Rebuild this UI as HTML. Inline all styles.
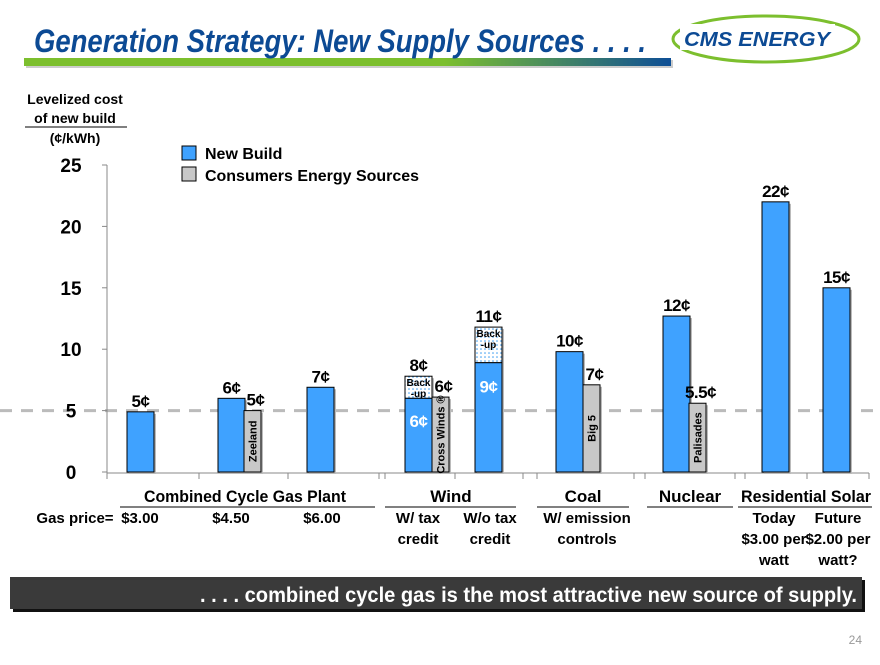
<!DOCTYPE html>
<html><head><meta charset="utf-8"><style>
html,body{margin:0;padding:0;background:#fff;}
body{width:880px;height:660px;overflow:hidden;position:relative;font-family:"Liberation Sans",sans-serif;}
svg text{font-family:"Liberation Sans",sans-serif;font-weight:bold;}
</style></head><body>
<svg id="chart" width="880" height="660" viewBox="0 0 880 660">
<defs>
<linearGradient id="bar" x1="0" x2="1"><stop offset="0" stop-color="#7cbf2e"/><stop offset="0.65" stop-color="#7cbf2e"/><stop offset="1" stop-color="#0e4f96"/></linearGradient>
<pattern id="dots" width="4" height="4" patternUnits="userSpaceOnUse"><rect width="4" height="4" fill="#fff"/><circle cx="1" cy="1" r="0.8" fill="#3a9cf0"/></pattern>
</defs>
<g>
<rect x="26" y="60" width="647" height="8" fill="#ccc"/>
<rect x="24" y="58" width="647" height="8" fill="url(#bar)"/>
<text x="34" y="52" font-size="32" font-style="italic" fill="#0c4a94" textLength="612" lengthAdjust="spacingAndGlyphs" style="font-weight:900">Generation Strategy:  New Supply Sources . . . .</text>
<ellipse cx="766" cy="39" rx="93" ry="23" fill="none" stroke="#7cbf2e" stroke-width="3"/>
<rect x="680" y="24" width="155" height="26" fill="#fff"/>
<text x="684" y="46" font-size="20" font-style="italic" fill="#0c4a94" textLength="146" lengthAdjust="spacingAndGlyphs">CMS ENERGY</text>
</g>
<g font-size="14" text-anchor="middle">
<text x="75" y="104">Levelized cost</text>
<text x="75" y="123">of new build</text>
<line x1="25" y1="127" x2="127" y2="127" stroke="#000" stroke-width="1"/>
<text x="75" y="143">(¢/kWh)</text>
</g>
<g font-size="16">
<rect x="182" y="146" width="14" height="14" fill="#3fa2ff" stroke="#000"/>
<text x="205" y="159">New Build</text>
<rect x="182" y="167" width="14" height="14" fill="#c8c8c8" stroke="#000"/>
<text x="205" y="181" textLength="214" lengthAdjust="spacingAndGlyphs">Consumers Energy Sources</text>
</g>
<g id="axes"></g>
<g id="bars"></g>
<g id="cats" font-size="15" text-anchor="middle"></g>
<g>
<rect x="13" y="580" width="852" height="32" fill="#111"/>
<rect x="10" y="577" width="852" height="32" fill="#3a3a3a"/>
<text x="200" y="602" font-size="21" fill="#fff" textLength="657" lengthAdjust="spacingAndGlyphs">. . . . combined cycle gas is the most attractive new source of supply.</text>
</g>
<text x="862" y="644" font-size="12" fill="#999" style="font-weight:normal" text-anchor="end">24</text>
</svg>
<script>
const yTicks=[0,5,10,15,20,25];
const barIds=['gas-300','gas-450','zeeland','gas-600','wind-tax','cross-winds','wind-notax','coal-new','big5','nuclear','palisades','solar-today','solar-future'];
const barValues=[4.9,6.0,5.0,6.9,6.0,6.1,8.9,9.8,7.1,12.7,5.6,22.0,15.0];
const backupValues=[0,0,0,0,7.8,0,11.8,0,0,0,0,0,0];
const barLabels=['5¢','6¢','5¢','7¢','8¢','6¢','11¢','10¢','7¢','12¢','5.5¢','22¢','15¢'];
const innerLabels=['','','Zeeland','','6¢','Cross Winds ®','9¢','','Big 5','','Palisades','',''];
const barKinds=['n','n','c','n','n','c','n','n','c','n','c','n','n'];
const barX=[127,218,244,307,405,432,475,556,583,663,689,762,823];
const NS='http://www.w3.org/2000/svg';
const y0=472,pxPer=12.28;
function yS(v){return y0-v*pxPer;}
function mk(t,a,p){const e=document.createElementNS(NS,t);for(const k in a)e.setAttribute(k,a[k]);p.appendChild(e);return e;}
const ax=document.getElementById('axes');
mk('line',{x1:0,y1:yS(5),x2:880,y2:yS(5),stroke:'#bbb','stroke-width':3,'stroke-dasharray':'12 9'},ax);
mk('line',{x1:107,y1:165,x2:107,y2:473,stroke:'#888'},ax);
yTicks.forEach(v=>{
 mk('line',{x1:102,y1:yS(v),x2:107,y2:yS(v),stroke:'#888'},ax);
 const t=mk('text',{x:71,y:yS(v)+7,'font-size':19,'text-anchor':'middle'},ax);
 
 
 t.textContent=v;
});
mk('line',{x1:107,y1:473,x2:869,y2:473,stroke:'#888'},ax);
[107,199,288,379,385,455,523,537,634,645,735,745,807,869].forEach(x=>mk('line',{x1:x,y1:473,x2:x,y2:479,stroke:'#888'},ax));
const bg=document.getElementById('bars');
barValues.forEach((v,i)=>{
 const c=barKinds[i]=='c';const w=c?17:27;const x=barX[i];
 const g=mk('g',{},bg);
 
 
 const top=backupValues[i]>0?backupValues[i]:v;
 mk('rect',{x:x+2,y:yS(top)+2,width:w,height:y0-yS(top),fill:'#bbb'},g);
 if(backupValues[i]>0){
  mk('rect',{x:x,y:yS(backupValues[i]),width:w,height:yS(v)-yS(backupValues[i]),fill:'url(#dots)',stroke:'#000'},g);
  const t1=mk('text',{x:x+w/2,y:yS(backupValues[i])+10,'font-size':10,'text-anchor':'middle'},g);t1.textContent='Back';
  const t2=mk('text',{x:x+w/2,y:yS(backupValues[i])+21,'font-size':10,'text-anchor':'middle'},g);t2.textContent='-up';
 }
 mk('rect',{x:x,y:yS(v),width:w,height:y0-yS(v),fill:c?'#c8c8c8':'#3fa2ff',stroke:'#000'},g);
 const lab=mk('text',{x:x+w/2+(c?3:0),y:yS(top)-5,'font-size':17,'text-anchor':'middle','letter-spacing':'-0.5'},g);lab.textContent=barLabels[i];
 if(innerLabels[i]){
  if(c){const t=mk('text',{x:0,y:0,'font-size':11,'text-anchor':'middle',transform:`translate(${x+w/2+4},${(yS(v)+y0)/2}) rotate(-90)`},g);t.textContent=innerLabels[i];}
  else{const t=mk('text',{x:x+w/2,y:(yS(v)+yS(0))/2-(i==4?8:5)+(i==6?-20:0),'font-size':17,fill:'#fff','text-anchor':'middle','letter-spacing':'-0.5'},g);t.textContent=innerLabels[i];}
 }
});
const cats=document.getElementById('cats');
const groups=[['Combined Cycle Gas Plant',245,120,375,202],['Wind',451,385,516,0],['Coal',583,537,629,0],['Nuclear',690,647,733,0],['Residential Solar',806,738,872,130]];
groups.forEach(gp=>{
 const a={x:gp[1],y:502,'font-size':17,'text-anchor':'middle'};
 if(gp[4]){a.textLength=gp[4];a.lengthAdjust='spacingAndGlyphs';}
 const t=mk('text',a,cats);
 
 
 t.textContent=gp[0];
 mk('line',{x1:gp[2],y1:507,x2:gp[3],y2:507,stroke:'#000'},cats);
});
const subs=[['Gas price=',75,523],['$3.00',140,523],['$4.50',231,523],['$6.00',322,523],['W/ tax',418,523],['credit',418,544],['W/o tax',490,523],['credit',490,544],['W/ emission',587,523],['controls',587,544],['Today',774,523],['$3.00 per',774,544],['watt',774,565],['Future',838,523],['$2.00 per',838,544],['watt?',838,565]];
subs.forEach(s=>{const t=mk('text',{x:s[1],y:s[2]},cats);t.textContent=s[0];});
</script>
</body></html>
